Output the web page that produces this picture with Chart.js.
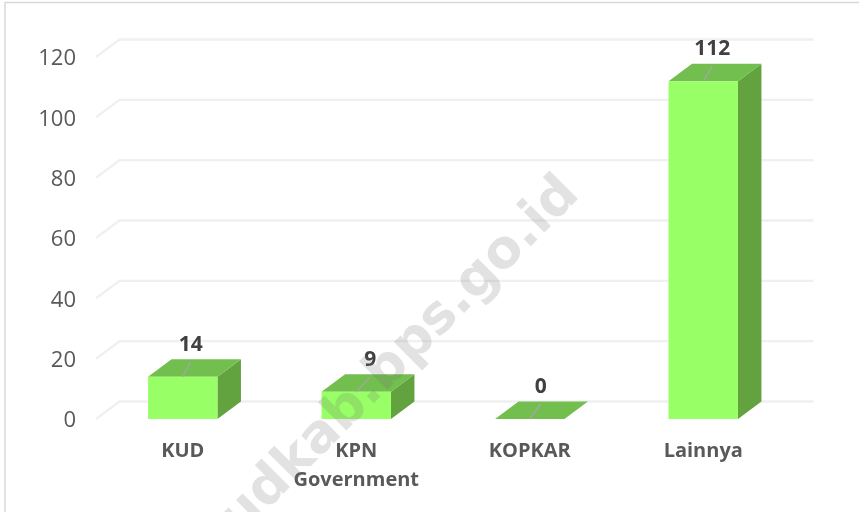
<!DOCTYPE html>
<html>
<head>
<meta charset="utf-8">
<style>html,body{margin:0;padding:0;background:#fff}canvas{display:block}</style>
<script src="https://cdn.jsdelivr.net/npm/chart.js@4"></script>
</head>
<body>
<canvas id="c" width="859" height="512"></canvas>
<script>
const categories = [['KUD'], ['KPN', 'Government'], ['KOPKAR'], ['Lainnya']];
const values = [14, 9, 0, 112];
const yTicks = [0, 20, 40, 60, 80, 100, 120];
const watermark = 'kudkab.bps.go.id';

const depthX = 23.5, depthY = 17.5;
const labelShift = [8, 14, 11, 9];
const colFront = '#99FF66', colTop = '#72BF4F', colSide = '#62A33F';
const fontName = '"Open Sans"';

function poly(ctx, pts, fill) {
  ctx.beginPath();
  pts.forEach((p, i) => i ? ctx.lineTo(p[0], p[1]) : ctx.moveTo(p[0], p[1]));
  ctx.closePath();
  ctx.fillStyle = fill;
  ctx.fill();
}

const scene3d = {
  id: 'scene3d',
  beforeDatasetsDraw(chart) {
    const { ctx, chartArea: a, scales: { y } } = chart;
    ctx.save();
    ctx.strokeStyle = '#F0F0F0';
    ctx.lineWidth = 2.4;
    yTicks.forEach(t => {
      const py = y.getPixelForValue(t);
      ctx.beginPath();
      ctx.moveTo(a.left, py);
      ctx.lineTo(a.left + depthX, py - depthY);
      ctx.lineTo(a.right + depthX, py - depthY);
      ctx.stroke();
    });
    chart.getDatasetMeta(0).data.forEach(el => {
      const { x, y: top, base, width } = el.getProps(['x', 'y', 'base', 'width'], true);
      const l = x - width / 2, r = x + width / 2;
      poly(ctx, [[r, top], [r + depthX, top - depthY], [r + depthX, base - depthY], [r, base]], colSide);
      poly(ctx, [[l, top], [l + depthX, top - depthY], [r + depthX, top - depthY], [r, top]], colTop);
    });
    ctx.restore();
  },
  afterDatasetsDraw(chart) {
    const { ctx } = chart;
    ctx.save();
    chart.getDatasetMeta(0).data.forEach((el, i) => {
      const { x, y: top } = el.getProps(['x', 'y'], true);
      const lx = x + labelShift[i];
      ctx.strokeStyle = '#A6A6A6';
      ctx.lineWidth = 1.3;
      ctx.beginPath();
      ctx.moveTo(x, top);
      ctx.lineTo(lx, top - 15);
      ctx.stroke();
      ctx.fillStyle = '#404040';
      ctx.font = 'bold 21px ' + fontName;
      ctx.textAlign = 'center';
      ctx.textBaseline = 'middle';
      ctx.fillText(String(values[i]), lx, top - 32);
    });
    ctx.restore();
  },
  afterDraw(chart) {
    const { ctx, width, height } = chart;
    ctx.save();
    ctx.strokeStyle = '#D9D9D9';
    ctx.lineWidth = 1.5;
    ctx.beginPath();
    ctx.moveTo(5, height);
    ctx.lineTo(5, 2.5);
    ctx.lineTo(width, 2.5);
    ctx.stroke();
    ctx.translate(581, 196);
    ctx.rotate(-Math.PI / 4);
    ctx.fillStyle = 'rgba(110,110,110,0.2)';
    ctx.font = 'bold 53px "DejaVu Sans"';
    ctx.textAlign = 'right';
    ctx.textBaseline = 'alphabetic';
    ctx.fillText(watermark, 0, 0);
    ctx.restore();
  }
};

new Chart(document.getElementById('c'), {
  type: 'bar',
  data: {
    labels: categories,
    datasets: [{
      data: values,
      backgroundColor: colFront,
      borderWidth: 0,
      barPercentage: 0.4,
      categoryPercentage: 1
    }]
  },
  options: {
    responsive: false,
    animation: false,
    layout: { padding: { top: 57, right: 69, left: 0, bottom: 0 } },
    plugins: { legend: { display: false }, tooltip: { enabled: false } },
    scales: {
      x: {
        grid: { display: false },
        border: { display: false },
        afterFit(s) { s.height = 93; },
        ticks: {
          color: '#595959',
          padding: 10,
          maxRotation: 0,
          font: { family: 'Open Sans', size: 20, weight: 'bold', lineHeight: 1.45 }
        }
      },
      y: {
        min: 0,
        max: 120,
        grid: { display: false },
        border: { display: false },
        afterFit(s) { s.width = 96; },
        afterBuildTicks(s) { s.ticks = yTicks.map(v => ({ value: v })); },
        ticks: {
          color: '#595959',
          padding: 12,
          labelOffset: 2,
          font: { family: 'Open Sans', size: 22 }
        }
      }
    }
  },
  plugins: [scene3d]
});
</script>
</body>
</html>
